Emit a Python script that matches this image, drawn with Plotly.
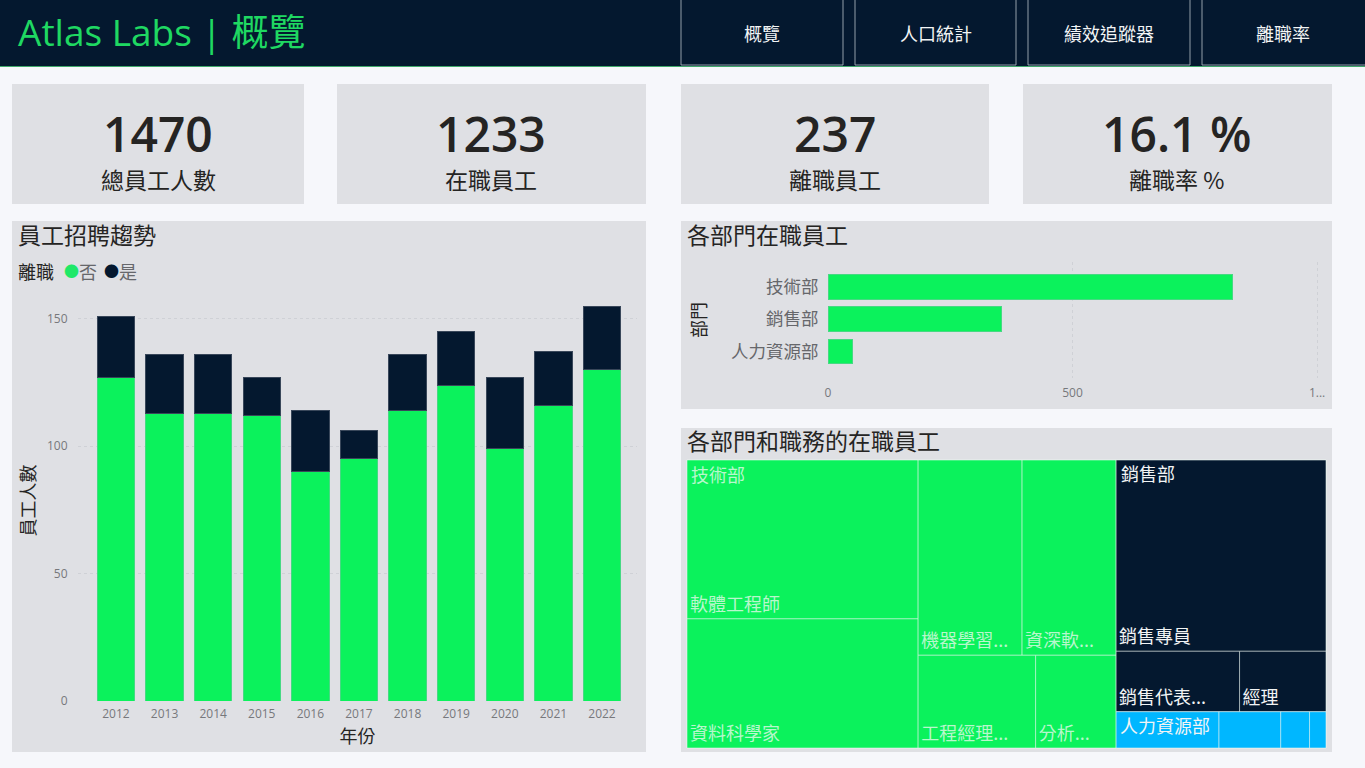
import plotly.graph_objects as go

W, H = 1365, 768
FONT = "Open Sans, Noto Sans CJK TC, sans-serif"
CJK = "Noto Sans CJK TC, sans-serif"
GREEN = "#0bf25c"
NAVY = "#04182f"
BLUE = "#00b7ff"
PANEL = "#dfe0e4"
PAGE = "#f6f7fb"

nav_labels = ["概覽", "人口統計", "績效追蹤器", "離職率"]
kpi_values = ["1470", "1233", "237", "16.1 %"]
kpi_labels = ["總員工人數", "在職員工", "離職員工", "離職率 %"]

years = ["2012", "2013", "2014", "2015", "2016", "2017", "2018", "2019", "2020", "2021", "2022"]
active = [127, 113, 113, 112, 90, 95, 114, 124, 99, 116, 130]
left = [24, 23, 23, 15, 24, 11, 22, 21, 28, 21, 25]

departments = ["技術部", "銷售部", "人力資源部"]
dept_active = [828, 354, 51]

tm_ids = ["root", "技術部", "銷售部", "人力資源部",
          "軟體工程師", "資料科學家", "機器學習工程師", "資深軟體工程師", "工程經理", "分析師",
          "銷售專員", "銷售代表", "銷售經理",
          "人資專員", "人資助理", "人資經理", "人資主任"]
tm_parents = ["", "root", "root", "root",
              "技術部", "技術部", "技術部", "技術部", "技術部", "技術部",
              "銷售部", "銷售部", "銷售部",
              "人力資源部", "人力資源部", "人力資源部", "人力資源部"]
tm_values = [1233, 828, 354, 51,
             246, 200, 136, 123, 73, 50,
             269, 50, 35,
             25, 15, 7, 4]
tm_text = ["", "", "", "",
           "軟體工程師", "資料科學家", "機器學習...", "資深軟...", "工程經理...", "分析...",
           "銷售專員", "銷售代表...", "經理",
           "", "", "", ""]


def px(x):
    return x / W


def py(y):
    return 1 - y / H


def rect(x0, y0, x1, y1, fill, line=None, lw=0):
    return dict(type="rect", xref="paper", yref="paper", x0=px(x0), x1=px(x1), y0=py(y0), y1=py(y1),
                fillcolor=fill, line=dict(color=line or fill, width=lw), layer="below")


shapes = [rect(0, 0, W, 66, NAVY), rect(0, 66, W, 67, "#3fa86b")]
nav_boxes = [(681, 843), (855, 1016), (1028, 1190), (1202, 1366)]
for a, b in nav_boxes:
    shapes.append(rect(a, -2, b, 65, NAVY, "#b8c2c8", 0.8))
kpi_boxes = [(12, 304), (337, 646), (681, 989), (1023, 1332)]
for a, b in kpi_boxes:
    shapes.append(rect(a, 84, b, 204, PANEL))
shapes += [rect(12, 221, 646, 752, PANEL), rect(681, 221, 1332, 409, PANEL), rect(681, 428, 1332, 752, PANEL)]


def label(x, y, text, size, color="#252423", anchor="left", font=CJK, weight=None):
    f = dict(family=font, size=size, color=color)
    if weight:
        f["weight"] = weight
    return dict(xref="paper", yref="paper", x=px(x), y=py(y), text=text, showarrow=False, xanchor=anchor,
                yanchor="middle", font=f)


ann = [label(16, 32, "Atlas Labs | 概覽", 37, "#1fd862", font=FONT)]
for (a, b), t in zip(nav_boxes, nav_labels):
    ann.append(label((a + b) / 2 - (0 if b < 1300 else 1), 33, t, 18, "#f2f4f5", "center"))
kpi_centers = [158, 491, 835, 1176]
for c, v, t in zip(kpi_centers, kpi_values, kpi_labels):
    ann.append(label(c, 134, v, 48, font=FONT, anchor="center", weight=600))
    ann.append(label(c, 179, t, 23, anchor="center"))
ann += [
    label(16, 234, "員工招聘趨勢", 23),
    label(685, 234, "各部門在職員工", 23),
    label(685, 440, "各部門和職務的在職員工", 23),
    label(689, 474, "技術部", 18, "#b8f7cc"),
    label(1119, 473, "銷售部", 18, "#f2f4f5"),
    label(1118, 725, "人力資源部", 18, "#f2f4f5"),
    label(16, 271, "離職", 18),
    label(62, 271, "●", 15, "#1fe868"),
    label(77, 271, "否", 18, "#66676b"),
    label(102, 271, "●", 15, NAVY),
    label(117, 271, "是", 18, "#66676b"),
]

tick_font = dict(family=FONT, size=12, color="#77787c")
title_font = dict(family=CJK, size=18, color="#252423")
grid = dict(showgrid=True, gridcolor="#cfd1d6", griddash="dot", gridwidth=1, zeroline=False, showline=False)

fig = go.Figure()
fig.add_trace(go.Bar(x=years, y=active, name="否", marker=dict(color=GREEN, line=dict(color="#46d983", width=1)),
                     width=0.77, showlegend=False, xaxis="x", yaxis="y"))
fig.add_trace(go.Bar(x=years, y=left, name="是", marker=dict(color=NAVY, line=dict(color="#39475a", width=1)),
                     width=0.77, showlegend=False, xaxis="x", yaxis="y"))
fig.add_trace(go.Bar(y=departments, x=dept_active, orientation="h", marker=dict(color=GREEN, line=dict(color="#46d983", width=1)),
                     width=0.76, showlegend=False, xaxis="x2", yaxis="y2"))

tm_colors = ["rgba(0,0,0,0)", GREEN, NAVY, BLUE] + [GREEN] * 6 + [NAVY] * 3 + [BLUE] * 4
tm_textcolors = ["#fff"] * 4 + ["#b8f7cc"] * 6 + ["#f2f4f5"] * 3 + ["#fff"] * 4
fig.add_trace(go.Treemap(
    ids=tm_ids, labels=tm_text, parents=tm_parents, values=tm_values, branchvalues="total",
    text=tm_text, texttemplate="%{text}", textinfo="text", textposition="bottom left",
    textfont=dict(family=CJK, size=18, color=tm_textcolors),
    marker=dict(colors=tm_colors, line=dict(color="rgba(235,245,240,0.55)", width=1), pad=dict(t=0, l=0, r=0, b=0)),
    tiling=dict(packing="squarify", squarifyratio=1.618, pad=0),
    pathbar=dict(visible=False), root=dict(color="rgba(0,0,0,0)"), hoverinfo="skip",
    domain=dict(x=[px(687), px(1326)], y=[py(748), py(460)]),
))

fig.update_layout(
    width=W, height=H, margin=dict(l=0, r=0, t=0, b=0, autoexpand=False), autosize=False,
    paper_bgcolor=PAGE, plot_bgcolor="rgba(0,0,0,0)", barmode="stack", bargap=0.22,
    font=dict(family=FONT), shapes=shapes, annotations=ann,
    showlegend=False,
    xaxis=dict(domain=[px(78), px(637)], anchor="y", type="category", range=[-0.78, 10.72], showgrid=False,
               zeroline=False, showline=False, tickfont=tick_font, ticks="outside", ticklen=2, tickcolor="rgba(0,0,0,0)",
               title=dict(text="年份", font=title_font, standoff=7)),
    yaxis=dict(domain=[py(701), py(300)], anchor="x", range=[0, 157.4], tickvals=[0, 50, 100, 150], tickfont=tick_font,
               ticks="outside", ticklen=7, tickcolor="rgba(0,0,0,0)",
               title=dict(text="員工人數", font=title_font, standoff=6), **grid),
    xaxis2=dict(domain=[px(828), px(1322)], anchor="y2", range=[0, 1010], tickvals=[0, 500, 1000],
                ticktext=["0", "500", "1..."], tickfont=tick_font, ticks="outside", ticklen=4,
                tickcolor="rgba(0,0,0,0)", **grid),
    yaxis2=dict(domain=[py(378), py(262)], anchor="x2", type="category", autorange=False,
                categoryorder="array", categoryarray=departments, range=[2.82, -0.77], showgrid=False,
                zeroline=False, showline=False, tickfont=dict(family=CJK, size=17.5, color="#66676b"), ticks="outside",
                ticklen=5, tickcolor="rgba(0,0,0,0)",
                title=dict(text="部門", font=dict(family=CJK, size=18, color="#252423"), standoff=19)),
)

fig.write_html("out.html", config={"displayModeBar": False},
               post_script="document.body.style.margin='0';document.documentElement.style.overflow='hidden';")
